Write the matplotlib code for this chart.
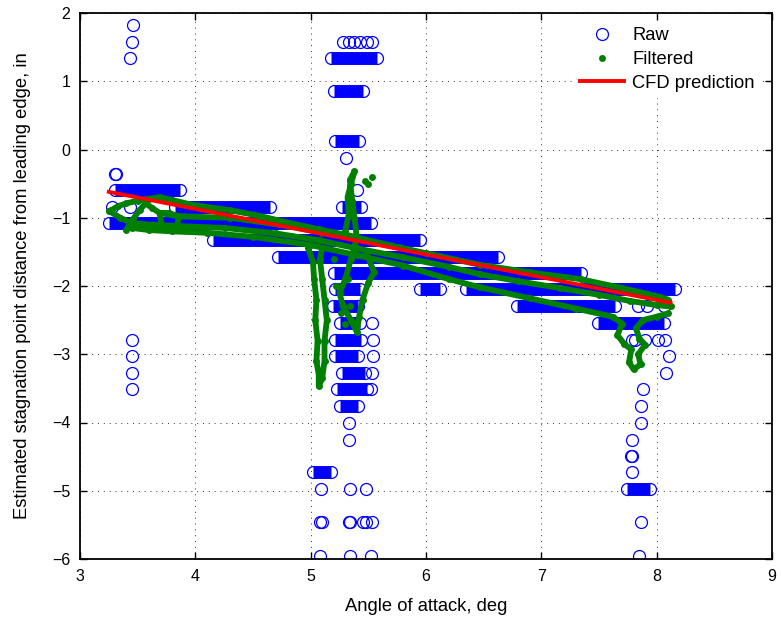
import numpy as np
import matplotlib
matplotlib.use('Agg')
import matplotlib.pyplot as plt

plt.rcParams['font.family'] = ['Liberation Sans', 'DejaVu Sans']
plt.rcParams['font.size'] = 11.5

# ---------------- Raw data: runs of samples on quantised levels ----------------
band_y = [-0.60, -0.84, -0.84, -1.08, -1.33, -1.57, -1.81, -2.05, -2.05, -2.30, -2.54,
          1.34, 0.85, 0.13,
          -2.05, -2.30, -2.54, -2.79, -3.03, -3.27, -3.51, -3.76, -4.73, -4.98]
band_x0 = [3.30, 3.82, 5.27, 3.25, 4.15, 4.72, 5.20, 5.95, 6.35, 6.79, 7.49,
           5.18, 5.20, 5.21,
           5.21, 5.19, 5.25, 5.21, 5.21, 5.27, 5.225, 5.25, 5.02, 7.74]
band_x1 = [3.87, 4.65, 5.44, 5.52, 5.95, 6.62, 7.34, 6.12, 8.16, 7.64, 8.06,
           5.575, 5.455, 5.42,
           5.43, 5.41, 5.43, 5.44, 5.41, 5.47, 5.49, 5.41, 5.18, 7.94]

ring_x = [3.46, 3.45, 3.43, 3.30, 3.31, 3.28, 3.43,
          3.454, 3.454, 3.454, 3.454,
          5.28, 5.33, 5.38, 5.43, 5.49, 5.53,
          5.31, 5.40,
          5.53, 5.54, 5.54, 5.53, 5.52, 5.33, 5.33,
          5.09, 5.34, 5.48, 5.08, 5.10, 5.33, 5.34, 5.45, 5.48, 5.53, 5.08, 5.34, 5.52,
          7.84, 7.92, 8.06, 7.79, 7.81, 7.90, 8.01, 8.07, 8.11, 8.08, 7.88, 7.86, 7.86,
          7.785, 7.78, 7.79, 7.785, 7.865, 7.85]
ring_y = [1.82, 1.58, 1.34, -0.36, -0.36, -0.84, -0.84,
          -2.79, -3.03, -3.27, -3.51,
          1.58, 1.58, 1.58, 1.58, 1.58, 1.58,
          -0.12, -0.60,
          -2.54, -2.79, -3.03, -3.27, -3.51, -4.00, -4.25,
          -4.98, -4.98, -4.98, -5.46, -5.46, -5.46, -5.46, -5.46, -5.46, -5.46, -5.95, -5.95, -5.95,
          -2.30, -2.30, -2.30, -2.79, -2.79, -2.79, -2.79, -2.79, -3.03, -3.27, -3.51, -3.76, -4.00,
          -4.25, -4.49, -4.49, -4.73, -5.46, -5.95]

# ---------------- Filtered data: traced sweeps ----------------
f1_x = [3.27, 3.33, 3.40, 3.50, 3.60, 3.69, 3.80, 3.97, 4.30, 4.55, 4.80, 5.07, 5.31, 5.60,
        6.00, 6.47, 6.90, 7.34, 7.70, 8.03, 8.10]
f1_y = [-0.89, -0.83, -0.79, -0.75, -0.72, -0.70, -0.74, -0.81, -0.89, -0.97, -1.07, -1.17,
        -1.25, -1.37, -1.52, -1.69, -1.80, -1.90, -2.03, -2.16, -2.20]

f2_x = [3.25, 3.35, 3.45, 3.60, 3.83, 4.26, 4.70, 5.07, 5.40, 5.80, 6.20, 6.47, 6.80, 7.16,
        7.50, 7.77, 8.00, 8.12]
f2_y = [-0.90, -1.00, -1.08, -1.10, -1.12, -1.15, -1.23, -1.33, -1.45, -1.58, -1.72, -1.83,
        -1.93, -2.03, -2.13, -2.22, -2.28, -2.30]

f3_x = [3.45, 3.60, 3.80, 4.10, 4.50, 5.00, 5.40, 5.80, 6.20, 6.47, 6.90, 7.30, 7.62, 7.70,
        7.66, 7.72, 7.78, 7.76, 7.80, 7.86, 7.84, 7.90, 7.85, 7.82, 7.88, 8.00, 8.10]
f3_y = [-1.15, -1.18, -1.20, -1.22, -1.28, -1.40, -1.55, -1.70, -1.90, -2.02, -2.18, -2.33,
        -2.45, -2.55, -2.72, -2.85, -2.93, -3.12, -3.22, -3.15, -3.00, -2.86, -2.77, -2.62,
        -2.50, -2.45, -2.40]

f4_x = [3.40, 3.46, 3.52, 3.57, 3.62, 3.69, 3.77, 3.86, 3.83, 3.71, 3.69, 3.86, 4.30, 4.80, 5.10]
f4_y = [-1.18, -1.02, -0.88, -0.79, -0.85, -0.93, -0.93, -0.98, -1.18, -1.13, -0.93, -0.98,
        -1.00, -1.12, -1.22]

f5_x = [4.98, 5.02, 5.03, 5.05, 5.04, 5.06, 5.05, 5.07, 5.07, 5.10, 5.12, 5.12, 5.14, 5.12,
        5.10, 5.08, 5.10]
f5_y = [-1.45, -1.65, -1.90, -2.20, -2.50, -2.80, -3.10, -3.30, -3.47, -3.35, -3.10, -2.80,
        -2.50, -2.20, -1.90, -1.60, -1.45]

f6_x = [5.30, 5.33, 5.32, 5.35, 5.38, 5.34, 5.36, 5.38, 5.40, 5.35, 5.30, 5.25, 5.28, 5.35,
        5.40, 5.42, 5.45, 5.50, 5.55, 5.48]
f6_y = [-1.20, -0.95, -0.70, -0.50, -0.32, -0.45, -0.75, -1.00, -1.30, -1.60, -1.90, -2.10,
        -2.30, -2.50, -2.67, -2.45, -2.20, -1.95, -1.80, -1.50]

f7_x = [5.20, 5.22, 5.26, 5.30, 5.34, 5.32, 5.47, 5.53, 5.50]
f7_y = [-1.60, -2.00, -2.40, -2.55, -2.30, -1.90, -0.46, -0.41, -0.50]

filtered_x = [f1_x, f2_x, f3_x, f4_x, f5_x, f6_x, f7_x]
filtered_y = [f1_y, f2_y, f3_y, f4_y, f5_y, f6_y, f7_y]
filtered_line = [True, True, True, True, True, True, False]

# ---------------- CFD prediction ----------------
cfd_x = [3.25, 8.12]
cfd_y = [-0.62, -2.245]

# ---------------- Figure ----------------
W, H = 781, 622
fig = plt.figure(figsize=(W / 100, H / 100), dpi=100)
ax = fig.add_axes([80 / W, (H - 559) / H, 692 / W, 546 / H])

blue = (0, 0, 1)
green = (0, 0.5, 0)
red = (1, 0, 0)

ring_ms = 8.6
ring_mew = 0.9
band_lw = 9.3

# bands of raw samples
end_x, end_y = [], []
for y, x0, x1 in zip(band_y, band_x0, band_x1):
    ax.plot([x0, x1], [y, y], color=blue, lw=band_lw, solid_capstyle='butt', zorder=2)
    end_x += [x0, x1]
    end_y += [y, y]
ax.plot(end_x + ring_x, end_y + ring_y, 'o', ls='none', mfc='none', mec=blue,
        ms=ring_ms, mew=ring_mew, zorder=2.1, label='Raw')

# filtered
allx, ally = [], []
for xs, ys, ln in zip(filtered_x, filtered_y, filtered_line):
    if ln:
        ax.plot(xs, ys, '-', color=green, lw=4.2, solid_capstyle='round',
                solid_joinstyle='round', zorder=3)
    allx += list(xs) + [np.nan]
    ally += list(ys) + [np.nan]
ax.plot(allx, ally, 'o', ls='none', color=green, ms=5, mew=0, zorder=3.1, label='Filtered')

# CFD
ax.plot(cfd_x, cfd_y, '-', color=red, lw=2.8, zorder=4, label='CFD prediction')

ax.set_xlim(3, 9)
ax.set_ylim(-6, 2)
ax.set_xticks(range(3, 10))
ax.set_yticks(range(-6, 3))
ax.tick_params(direction='in', top=True, right=True, length=5, width=1, pad=7,
               labelsize=11.5)
for s in ax.spines.values():
    s.set_linewidth(1.3)
ax.grid(True, linestyle=(0, (1, 5)), color='#333333', lw=0.7)
ax.set_axisbelow(True)

ax.set_xlabel('Angle of attack, deg', fontsize=13.2, labelpad=10)
ax.set_ylabel('Estimated stagnation point distance from leading edge, in',
              fontsize=13.2, labelpad=15)

leg = ax.legend(loc='upper right', bbox_to_anchor=(1 - 12 / 692, 1 - 9 / 546),
                frameon=True, fancybox=False, edgecolor='white', facecolor='white',
                framealpha=1, handlelength=2.4, handletextpad=0.45, labelspacing=0.36,
                borderpad=0.3, borderaxespad=0, fontsize=13.2)
leg.set_zorder(10)

fig.savefig('out.png', dpi=100)
